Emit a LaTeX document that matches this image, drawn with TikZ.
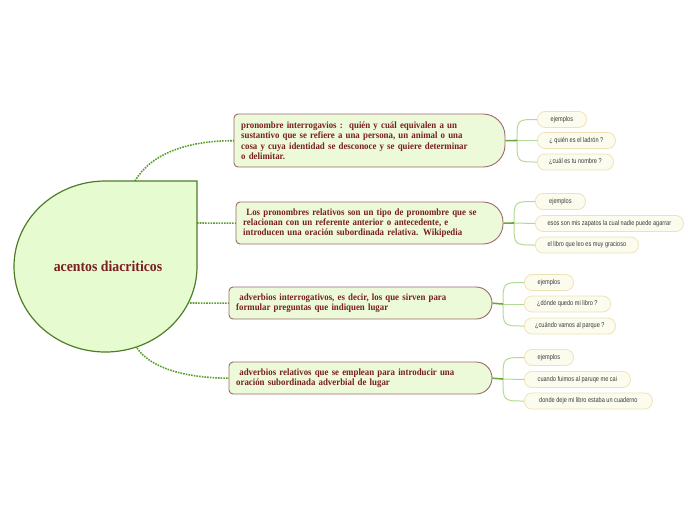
\documentclass[tikz,border=0pt]{standalone}
\usepackage{fontspec}
\setmainfont{Liberation Serif}
\newfontfamily\mainbf{Liberation Serif}[FakeStretch=0.92]
\newfontfamily\leaffont{Liberation Sans}[FakeStretch=0.8]
\usetikzlibrary{calc}
\pgfdeclarelayer{background}
\pgfsetlayers{background,main}
\definecolor{txtred}{HTML}{7A1F1F}
\definecolor{cfill}{HTML}{E7FBD1}
\definecolor{cborder}{HTML}{4E7D2A}
\definecolor{mfill}{HTML}{EDFAD9}
\definecolor{mborder}{HTML}{9A6A6A}
\definecolor{dotgreen}{HTML}{5A9E2A}
\definecolor{darkgreen}{HTML}{6AA83A}
\definecolor{lightgreen}{HTML}{B2DA94}
\definecolor{leaffill}{HTML}{FBFCEE}
\definecolor{leafborder}{HTML}{EFE2B6}
\definecolor{leaftext}{HTML}{3A3A3A}
\newcommand\mainshape[5]{\path[mainfillstyle] ({#1+4},#2) -- ({#3-#5},#2) arc[start angle=270,end angle=360,radius=#5] -- (#3,{#4-#5}) arc[start angle=0,end angle=90,radius=#5] -- ({#1+4},#4) arc[start angle=90,end angle=180,radius=4] -- (#1,{#2+4}) arc[start angle=180,end angle=270,radius=4] -- cycle;}
\begin{document}
\begin{tikzpicture}[x=1pt,y=-1pt,
  centralstyle/.style={draw=cborder,fill=cfill,line width=1.2pt},
  mainfillstyle/.style={draw=mborder,fill=mfill,line width=0.9pt},
  mainnode/.style={anchor=north west,inner xsep=7pt,inner ysep=0pt,align=left,text=txtred,
    font=\mainbf\bfseries\fontsize{9.6}{10.3}\selectfont},
  leaf/.style={anchor=west,draw=leafborder,fill=leaffill,line width=0.8pt,rounded corners=7.5pt,
    minimum height=16pt,inner sep=0pt,text=leaftext,font=\leaffont\fontsize{7}{8}\selectfont},
  dotconn/.style={draw=dotgreen,line width=1.6pt,dash pattern=on 1.6pt off 1.1pt},
  darkconn/.style={draw=darkgreen,line width=1.6pt},
  brconn/.style={draw=lightgreen,line width=1pt}]
\useasboundingbox (0,0) rectangle (696,520);
% central shape
\path[centralstyle] (197,181) -- (197,266.5) arc[start angle=0,end angle=270,x radius=91.5,y radius=85.5] -- cycle;
\node[text=txtred,font=\mainbf\bfseries\fontsize{15}{16}\selectfont] (c) at (108,266.5) {acentos diacriticos};
\coordinate (c1) at (135,181);
\coordinate (c2) at (197,223);
\coordinate (c3) at (190,303);
\coordinate (c4) at (137,348);
% main shapes
\mainshape{234}{114}{505}{167}{22}
\mainshape{236}{202}{503}{244}{20}
\mainshape{229}{287}{492}{319}{16}
\mainshape{229}{362}{492}{394}{16}
\node[mainnode,text width=257pt,minimum height=53pt] (n1) at (234,114) {pronombre interrogavios :\ \ quién y cuál equivalen a un\\ sustantivo que se refiere a una persona, un animal o una\\ cosa y cuya identidad se desconoce y se quiere determinar\\ o delimitar.};
\node[mainnode,text width=253pt,minimum height=42pt] (n2) at (236,202) {\ Los pronombres relativos son un tipo de pronombre que se\\ relacionan con un referente anterior o antecedente, e\\ introducen una oración subordinada relativa. Wikipedia};
\node[mainnode,text width=249pt,minimum height=32pt] (n3) at (229,287) {\ adverbios interrogativos, es decir, los que sirven para\\ formular preguntas que indiquen lugar};
\node[mainnode,text width=249pt,minimum height=32pt] (n4) at (229,362) {\ adverbios relativos que se emplean para introducir una\\ oración subordinada adverbial de lugar};
% leaves
\node[leaf,minimum width=49pt] (l11) at (537,119.5) {ejemplos};
\node[leaf,minimum width=78pt] (l12) at (537,140.5) {¿ quién es el ladrón ?};
\node[leaf,minimum width=76pt] (l13) at (537,162) {¿cuál es tu nombre ?};
\node[leaf,minimum width=50pt] (l21) at (535,201.5) {ejemplos};
\node[leaf,minimum width=148pt] (l22) at (535,223.5) {esos son mis zapatos la cual nadie puede agarrar};
\node[leaf,minimum width=103pt] (l23) at (535,245) {el libro que leo es muy gracioso};
\node[leaf,minimum width=49pt] (l31) at (524,282.5) {ejemplos};
\node[leaf,minimum width=86pt] (l32) at (524,304) {¿dónde quedo mi libro ?};
\node[leaf,minimum width=91pt] (l33) at (524,326) {¿cuándo vamos al parque ?};
\node[leaf,minimum width=49pt] (l41) at (524,357.5) {ejemplos};
\node[leaf,minimum width=106pt] (l42) at (524,379.5) {cuando fuimos al paruqe me cai};
\node[leaf,minimum width=128pt] (l43) at (524,401) {donde deje mi libro estaba un cuaderno};
\coordinate (b1) at (517,140.5);
\coordinate (b2) at (514,223);
\coordinate (b3) at (503,304);
\coordinate (b4) at (503,379);
\begin{pgfonlayer}{background}
\draw[dotconn] (c1) .. controls (150,155) and (185,140.5) .. (n1.west);
\draw[dotconn] (c2) -- (n2.west);
\draw[dotconn] (c3) -- (n3.west);
\draw[dotconn] (c4) .. controls (152,370) and (190,378) .. (n4.west);
\foreach \g in {1,2,3,4}{
  \draw[brconn] (b\g) .. controls (b\g |- l\g1.west) .. (l\g1.west);
  \draw[brconn] (b\g) -- (l\g2.west);
  \draw[brconn] (b\g) .. controls (b\g |- l\g3.west) .. (l\g3.west);
  \draw[darkconn] (n\g.east) -- (b\g);
}
\end{pgfonlayer}
\end{tikzpicture}
\end{document}
